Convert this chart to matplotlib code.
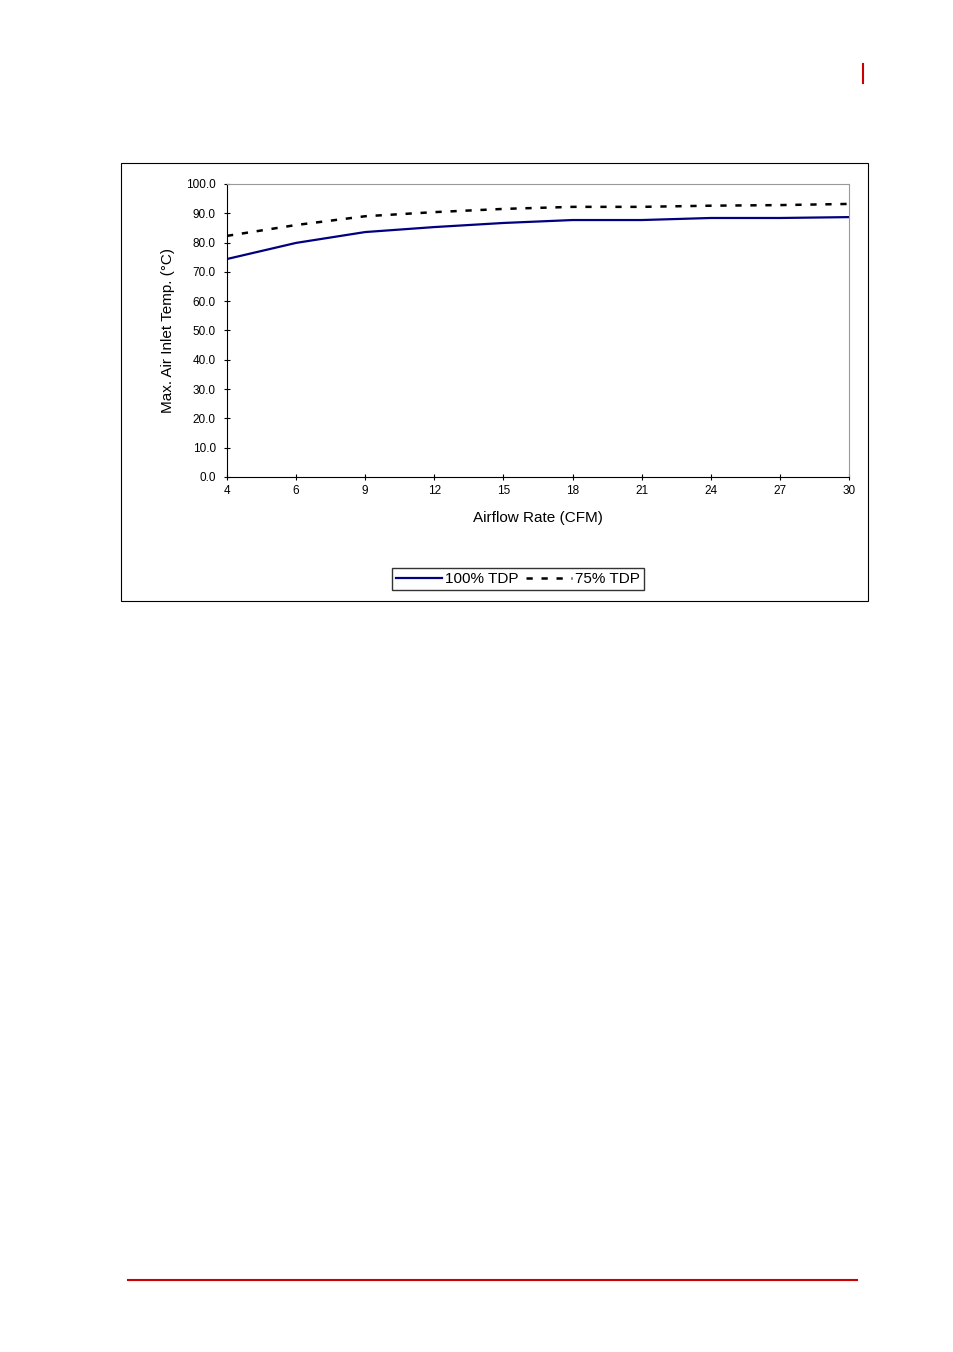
import matplotlib
matplotlib.use("Agg")
import matplotlib.pyplot as plt
from matplotlib.patches import Rectangle
from matplotlib.lines import Line2D

categories = ["4", "6", "9", "12", "15", "18", "21", "24", "27", "30"]
tdp100 = [74.4, 79.9, 83.6, 85.3, 86.7, 87.7, 87.7, 88.4, 88.4, 88.7]
tdp75 = [82.3, 86.0, 89.0, 90.4, 91.5, 92.2, 92.2, 92.6, 92.8, 93.2]

W, H = 954, 1352
fig = plt.figure(figsize=(W/100, H/100), dpi=100)
plt.rcParams['font.family'] = ['Liberation Sans', 'DejaVu Sans']

def fx(x): return x / W
def fy(y): return 1 - y / H

# page decorations
fig.add_artist(Line2D([fx(863), fx(863)], [fy(64), fy(83)], color='#cc0000', lw=1.5))
fig.add_artist(Line2D([fx(128), fx(857)], [fy(1280), fy(1280)], color='#cc0000', lw=1.5))
fig.add_artist(Rectangle((fx(121), fy(601)), fx(868-121), (601-163)/H, fill=False, ec='black', lw=0.8))

ax = fig.add_axes([fx(227), fy(477), fx(849-227), (477-184)/H])
x = list(range(len(categories)))
ax.plot(x, tdp100, color='#000080', lw=1.6, label='100% TDP')
ax.plot(x, tdp75, color='black', lw=1.8, ls=(0, (2.5, 3.5)), label='75% TDP')
ax.set_xlim(0, len(categories) - 1)
ax.set_ylim(0, 100)
ax.set_xticks(x)
ax.set_xticklabels(categories)
ax.set_yticks(range(0, 101, 10))
ax.set_yticklabels([f"{v:.1f}" for v in range(0, 101, 10)])
ax.tick_params(axis='both', labelsize=8.5, length=4, direction='inout', width=0.8)
ax.tick_params(axis='y', pad=6)
for s in ['top', 'right']:
    ax.spines[s].set_color('#999999')
    ax.spines[s].set_linewidth(0.8)
for s in ['left', 'bottom']:
    ax.spines[s].set_linewidth(0.8)
ax.set_xlabel('Airflow Rate (CFM)', fontsize=11, labelpad=10)
ax.set_ylabel('Max. Air Inlet Temp. (°C)', fontsize=11, labelpad=8)

fig.legend(loc='center', bbox_to_anchor=(fx(518), fy(579)), ncol=2, frameon=True,
           fancybox=False, edgecolor='black', fontsize=11, handlelength=3,
           handletextpad=0.2, columnspacing=0.5, borderpad=0.25)
fig.savefig('out.png', dpi=100)
